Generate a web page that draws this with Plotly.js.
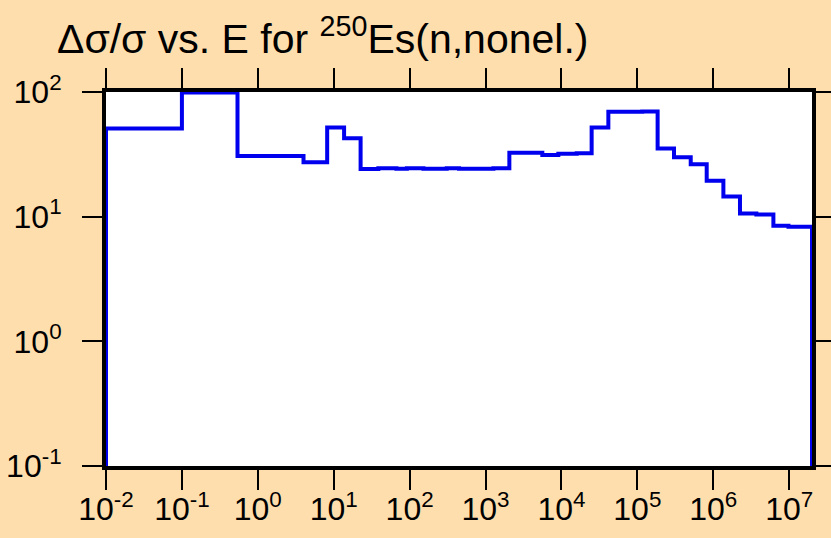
<!DOCTYPE html>
<html>
<head>
<meta charset="utf-8">
<script src="https://cdn.plot.ly/plotly-3.0.1.min.js"></script>
<style>html,body{margin:0;padding:0;background:#FFDEAD;}</style>
</head>
<body>
<div id="chart" style="width:831px;height:538px;"></div>
<script>
// Group boundaries (eV) and relative uncertainty (%) per group
const energyEdges = [0.01, 0.1, 0.54, 4, 8.2, 13.7, 22.6, 38.7, 67, 92, 152, 308, 448, 1270, 2060, 5600, 9100, 15900, 25000, 41500, 116000, 185000, 304000, 505000, 820000, 1.36e6, 2.25e6, 3.7e6, 6.2e6, 9.8e6, 2e7];
const uncertainty = [51, 99, 30.7, 27.3, 51.8, 42.6, 24.1, 24.4, 24.2, 24.4, 24.2, 24.4, 24.2, 24.4, 32.6, 31.2, 32.0, 32.2, 51.8, 69.5, 69.8, 35.3, 29.9, 26.3, 19.4, 14.5, 10.6, 10.4, 8.47, 8.3];
const xTickVals = [1e-2, 1e-1, 1e0, 1e1, 1e2, 1e3, 1e4, 1e5, 1e6, 1e7];
const xTickText = ["10<sup>-2</sup>", "10<sup>-1</sup>", "10<sup>0</sup>", "10<sup>1</sup>", "10<sup>2</sup>", "10<sup>3</sup>", "10<sup>4</sup>", "10<sup>5</sup>", "10<sup>6</sup>", "10<sup>7</sup>"];
const yTickVals = [0.1, 1, 10, 100];
const yTickText = ["10<sup>-1</sup>", "10<sup>0</sup>", "10<sup>1</sup>", "10<sup>2</sup>"];
const yFloor = 0.1;

const xs = [energyEdges[0]];
const ys = [yFloor];
for (let i = 0; i < uncertainty.length; i++) {
  xs.push(energyEdges[i]);
  ys.push(uncertainty[i]);
}
xs.push(energyEdges[energyEdges.length - 1]);
ys.push(yFloor);

const trace = {
  x: xs, y: ys, type: 'scatter', mode: 'lines',
  line: {shape: 'hv', color: '#0000EE', width: 4},
  cliponaxis: false, hoverinfo: 'skip'
};

const font = "Liberation Sans, Arial, sans-serif";
const axisCommon = {
  type: 'log', showgrid: false, zeroline: false,
  showline: true, linecolor: '#000', linewidth: 4,
  ticks: 'outside', ticklen: 20, tickwidth: 2, tickcolor: '#000',
  mirror: 'allticks', tickfont: {family: font, size: 32, color: '#000'}
};

const layout = {
  width: 831, height: 538,
  paper_bgcolor: '#FFDEAD', plot_bgcolor: '#FFFFFF',
  margin: {l: 106, r: 19, t: 92, b: 72},
  showlegend: false,
  title: {
    text: "Δσ/σ vs. E for <sup>250</sup>Es(n,nonel.)",
    font: {family: font, size: 41, color: '#000'},
    x: 57 / 831, xref: 'container', xanchor: 'left',
    y: 1 - 39 / 538, yref: 'container', yanchor: 'middle'
  },
  xaxis: Object.assign({}, axisCommon, {
    range: [-2, Math.log10(2e7)], tickmode: 'array', tickvals: xTickVals, ticktext: xTickText,
    ticklabelstandoff: -8
  }),
  yaxis: Object.assign({}, axisCommon, {
    range: [-1, 2], tickmode: 'array', tickvals: yTickVals, ticktext: yTickText,
    ticklabelstandoff: 14
  })
};

Plotly.newPlot('chart', [trace], layout, {staticPlot: true, displayModeBar: false});
</script>
</body>
</html>
